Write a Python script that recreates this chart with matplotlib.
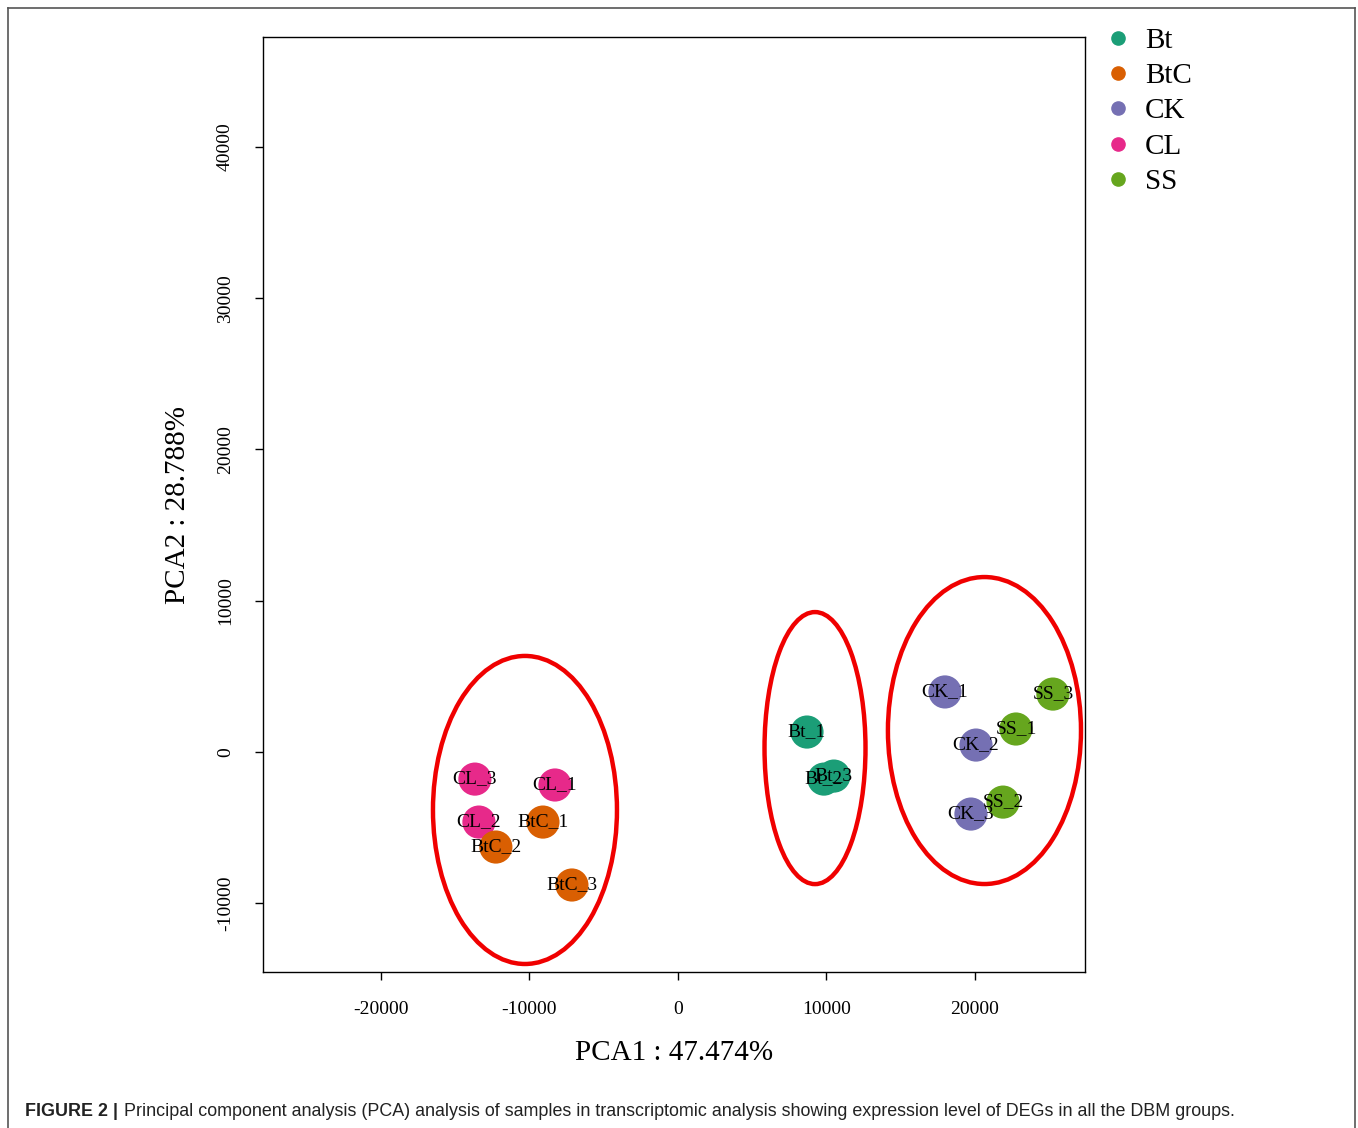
import matplotlib
matplotlib.use('Agg')
import matplotlib.pyplot as plt
from matplotlib.patches import Ellipse
from matplotlib.lines import Line2D

# sample scores
samples = ['CL_3', 'CL_1', 'CL_2', 'BtC_1', 'BtC_2', 'BtC_3',
           'Bt_1', 'Bt_2', 'Bt_3',
           'CK_1', 'CK_2', 'CK_3', 'SS_1', 'SS_2', 'SS_3']
groups = ['CL', 'CL', 'CL', 'BtC', 'BtC', 'BtC',
          'Bt', 'Bt', 'Bt',
          'CK', 'CK', 'CK', 'SS', 'SS', 'SS']
pca1 = [-13670, -8280, -13400, -9090, -12260, -7140,
        8690, 9830, 10500,
        17980, 20070, 19730, 22760, 21890, 25250]
pca2 = [-1790, -2180, -4630, -4630, -6280, -8790,
        1320, -1790, -1590,
        3970, 460, -4100, 1520, -3310, 3830]

legend_groups = ['Bt', 'BtC', 'CK', 'CL', 'SS']
group_colors = {'Bt': '#1B9E77', 'BtC': '#D95F02', 'CK': '#7570B3',
                'CL': '#E7298A', 'SS': '#66A61E'}

# cluster ellipses: centre x, centre y, width, height
ell_cx = [-10300, 9230, 20640]
ell_cy = [-3830, 260, 1420]
ell_w = [12390, 6800, 13000]
ell_h = [20360, 17980, 20290]

xticks = [-20000, -10000, 0, 10000, 20000]
yticks = [-10000, 0, 10000, 20000, 30000, 40000]

serif = ['Liberation Serif', 'DejaVu Serif']

fig = plt.figure(figsize=(13.58, 11.28), dpi=100)
ax = fig.add_axes([263/1358, 1 - 972/1128, (1085-263)/1358, (972-37)/1128])

for x, y, g, name in zip(pca1, pca2, groups, samples):
    ax.scatter(x, y, s=570, color=group_colors[g], edgecolors='none', zorder=2)
    ax.text(x, y, name, ha='center', va='center', fontsize=14,
            family=serif, color='black', zorder=3)

for cx, cy, w, h in zip(ell_cx, ell_cy, ell_w, ell_h):
    ax.add_patch(Ellipse((cx, cy), w, h, fill=False, edgecolor='#F00000',
                         linewidth=3.2, zorder=4))

ax.set_xlim(-27940, 27410)
ax.set_ylim(-14540, 47260)
ax.set_xticks(xticks)
ax.set_yticks(yticks)
ax.set_xticklabels([str(t) for t in xticks], family=serif, fontsize=14)
ax.set_yticklabels([str(t) for t in yticks], family=serif, fontsize=14,
                   rotation=90, va='center')
ax.tick_params(direction='out', length=6, width=1, pad=15)
for sp in ax.spines.values():
    sp.set_linewidth(1)

fig.text(674/1358, 1 - 1053/1128, 'PCA1 : 47.474%', ha='center', va='center',
         family=serif, fontsize=21)
fig.text(178/1358, 1 - 505/1128, 'PCA2 : 28.788%', ha='center', va='center',
         rotation=90, family=serif, fontsize=21)

# legend drawn by hand in figure coordinates
for i, g in enumerate(legend_groups):
    yy = 1 - (38 + i * 35.2) / 1128
    fig.add_artist(Line2D([1118/1358], [yy], marker='o', markersize=9.5,
                          color=group_colors[g], linestyle='none',
                          transform=fig.transFigure))
    fig.text(1145/1358, yy - 3/1128, g, ha='left', va='center', family=serif, fontsize=21)

# outer frame
frame_col = '#555555'
fig.add_artist(Line2D([8/1358, 8/1358], [0, 1 - 8/1128], color=frame_col,
                      linewidth=1.2, transform=fig.transFigure))
fig.add_artist(Line2D([8/1358, 1355/1358], [1 - 8/1128, 1 - 8/1128], color=frame_col,
                      linewidth=1.2, transform=fig.transFigure))
fig.add_artist(Line2D([1355/1358, 1355/1358], [1 - 8/1128, 0], color=frame_col,
                      linewidth=1.2, transform=fig.transFigure))

sans = ['Liberation Sans', 'DejaVu Sans']
fig.text(25/1358, 1 - 1112/1128, 'FIGURE 2 |', ha='left', va='center',
         family=sans, fontsize=12.9, fontweight='bold', color='#222222')
fig.text(124/1358, 1 - 1112/1128,
         'Principal component analysis (PCA) analysis of samples in transcriptomic '
         'analysis showing expression level of DEGs in all the DBM groups.',
         ha='left', va='center', family=sans, fontsize=12.9, color='#222222')

fig.savefig('out.png', dpi=100)
